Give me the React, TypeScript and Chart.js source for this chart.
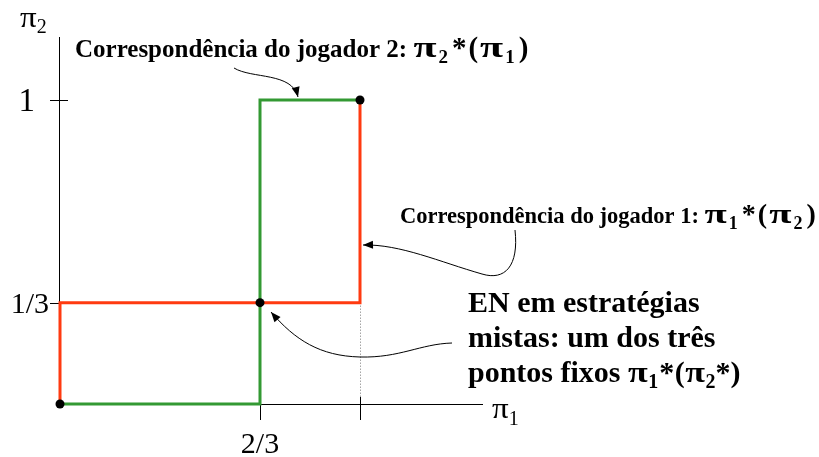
import React, { useEffect, useRef } from "react";
import { Chart, registerables } from "chart.js";

Chart.register(...registerables);

// Best-response correspondences of a 2x2 game in mixed strategies
const player1X = [0, 0, 1, 1];
const player1Y = [0, 1 / 3, 1 / 3, 1];
const player2X = [0, 2 / 3, 2 / 3, 1];
const player2Y = [0, 0, 1, 1];
const equilibriaX = [0, 2 / 3, 1];
const equilibriaY = [0, 1 / 3, 1];

const xTickValues = [2 / 3, 1];
const xTickLabels = ["2/3", ""];
const yTickValues = [1 / 3, 1];
const yTickLabels = ["1/3", "1"];

const RED = "#ff3a10";
const GREEN = "#339933";
const SERIF = '"Liberation Serif", "Times New Roman", serif';

type Run = { t: string; size: number; dy?: number; sx?: number; pad?: number };

function drawRuns(ctx: CanvasRenderingContext2D, x: number, y: number, runs: Run[], bold: boolean) {
  let cx = x;
  ctx.textBaseline = "alphabetic";
  ctx.textAlign = "left";
  for (const r of runs) {
    ctx.font = `${bold ? "bold " : ""}${r.size}px ${SERIF}`;
    const sx = r.sx || 1;
    ctx.save();
    ctx.translate(cx, y + (r.dy || 0));
    ctx.scale(sx, 1);
    ctx.fillText(r.t, 0, 0);
    ctx.restore();
    cx += ctx.measureText(r.t).width * sx + (r.pad || 0);
  }
}

// formula "πa*(πb)" with a wide, symbol-style pi
function formula(size: number, a: string, b: string, sx: number, gap: number, starInside: boolean): Run[] {
  const sub = Math.round(size * 0.65);
  const dy = Math.round(size * 0.2);
  const runs: Run[] = [
    { t: "π", size, sx, pad: gap },
    { t: a, size: sub, dy, pad: gap * 2 },
    { t: "*", size, pad: gap },
    { t: "(", size, pad: gap },
    { t: "π", size, sx, pad: gap },
    { t: b, size: sub, dy, pad: starInside ? 0 : gap * 2 },
  ];
  if (starInside) runs.push({ t: "*", size }, { t: ")", size });
  else runs.push({ t: ")", size });
  return runs;
}

function arrow(ctx: CanvasRenderingContext2D, pts: number[][]) {
  // pts: start, then triples of (cp1, cp2, end)
  ctx.beginPath();
  ctx.moveTo(pts[0][0], pts[0][1]);
  for (let i = 1; i + 2 < pts.length; i += 3) {
    ctx.bezierCurveTo(pts[i][0], pts[i][1], pts[i + 1][0], pts[i + 1][1], pts[i + 2][0], pts[i + 2][1]);
  }
  ctx.strokeStyle = "#000";
  ctx.lineWidth = 1;
  ctx.stroke();
  const end = pts[pts.length - 1];
  const cp = pts[pts.length - 2];
  const ang = Math.atan2(end[1] - cp[1], end[0] - cp[0]);
  const len = 10;
  const hw = 4;
  ctx.beginPath();
  ctx.moveTo(end[0], end[1]);
  ctx.lineTo(end[0] - len * Math.cos(ang) + hw * Math.sin(ang), end[1] - len * Math.sin(ang) - hw * Math.cos(ang));
  ctx.lineTo(end[0] - len * Math.cos(ang) - hw * Math.sin(ang), end[1] - len * Math.sin(ang) + hw * Math.cos(ang));
  ctx.closePath();
  ctx.fillStyle = "#000";
  ctx.fill();
}

const axesPlugin = {
  id: "gameAxes",
  beforeDatasetsDraw(chart: any) {
    const ctx: CanvasRenderingContext2D = chart.ctx;
    const xs = chart.scales.x;
    const ys = chart.scales.y;
    const area = chart.chartArea;
    const x0 = xs.getPixelForValue(0);
    const y0 = ys.getPixelForValue(0);
    ctx.save();
    ctx.strokeStyle = "#000";
    ctx.lineWidth = 1;
    ctx.beginPath();
    ctx.moveTo(x0 - 0.5, y0);
    ctx.lineTo(x0 - 0.5, area.top);
    ctx.moveTo(x0, y0 + 0.5);
    ctx.lineTo(area.right, y0 + 0.5);
    for (const v of yTickValues) {
      const py = Math.round(ys.getPixelForValue(v)) + 0.5;
      ctx.moveTo(x0 - 10, py);
      ctx.lineTo(x0 + 8, py);
    }
    for (const v of xTickValues) {
      const px = Math.round(xs.getPixelForValue(v)) + 0.5;
      ctx.moveTo(px, y0 - 7);
      ctx.lineTo(px, y0 + 16);
    }
    ctx.stroke();

    // dotted guide under the corner at π1 = 1
    const gx = Math.round(xs.getPixelForValue(1)) + 0.5;
    ctx.strokeStyle = "#777";
    ctx.setLineDash([1, 2]);
    ctx.beginPath();
    ctx.moveTo(gx, ys.getPixelForValue(1 / 3));
    ctx.lineTo(gx, y0 - 7);
    ctx.stroke();
    ctx.setLineDash([]);

    // tick labels
    ctx.fillStyle = "#000";
    ctx.textBaseline = "alphabetic";
    xTickValues.forEach((v, i) => {
      if (!xTickLabels[i]) return;
      ctx.font = `30px ${SERIF}`;
      ctx.textAlign = "center";
      ctx.fillText(xTickLabels[i], xs.getPixelForValue(v), y0 + 49);
    });
    yTickValues.forEach((v, i) => {
      ctx.textAlign = "right";
      const py = ys.getPixelForValue(v);
      ctx.font = `${i === 0 ? 30 : 33}px ${SERIF}`;
      ctx.fillText(yTickLabels[i], i === 0 ? x0 - 11 : x0 - 25, py + (i === 0 ? 10 : 11));
    });

    // axis titles
    drawRuns(ctx, 20, 27, [{ t: "π", size: 30, sx: 1.1 }, { t: "2", size: 20, dy: 6 }], false);
    drawRuns(ctx, area.right + 9, y0 + 14, [{ t: "π", size: 30, sx: 1.1 }, { t: "1", size: 20, dy: 7 }], false);
    ctx.restore();
  },
  afterDraw(chart: any) {
    const ctx: CanvasRenderingContext2D = chart.ctx;
    ctx.save();
    ctx.fillStyle = "#000";
    drawRuns(
      ctx,
      75,
      57,
      [{ t: "Correspondência do jogador 2: ", size: 25 }, ...formula(29, "2", "1", 1.45, 2, false)],
      true,
    );
    drawRuns(
      ctx,
      400,
      223,
      [{ t: "Correspondência do jogador 1: ", size: 22.5 }, ...formula(28, "1", "2", 1.45, 2, false)],
      true,
    );
    drawRuns(ctx, 468, 312, [{ t: "EN em estratégias", size: 30 }], true);
    drawRuns(ctx, 468, 347, [{ t: "mistas: um dos três", size: 30 }], true);
    drawRuns(ctx, 468, 382, [{ t: "pontos fixos ", size: 30 }, ...formula(30, "1", "2", 1.2, 0.5, true)], true);

    arrow(ctx, [[234, 68], [252, 79], [292, 72], [298, 97]]);
    arrow(ctx, [[515, 230], [519, 266], [505, 281], [482, 274], [440, 262], [400, 244], [363, 245]]);
    arrow(ctx, [[452, 343], [420, 344], [400, 358], [360, 357], [320, 356], [295, 340], [271, 312]]);
    ctx.restore();
  },
};

export default function App() {
  const ref = useRef<HTMLCanvasElement>(null);

  useEffect(() => {
    if (!ref.current) return;
    const toPts = (xs: number[], ys: number[]) => xs.map((x, i) => ({ x, y: ys[i] }));
    const chart = new Chart(ref.current, {
      type: "line",
      data: {
        datasets: [
          {
            label: "Equilíbrios",
            data: toPts(equilibriaX, equilibriaY),
            showLine: false,
            pointRadius: 4.5,
            pointBackgroundColor: "#000",
            pointBorderWidth: 0,
            clip: false,
            order: 0,
          },
          {
            label: "Correspondência do jogador 2",
            data: toPts(player2X, player2Y),
            borderColor: GREEN,
            borderWidth: 3,
            pointRadius: 0,
            fill: false,
            tension: 0,
            clip: false,
            order: 1,
          },
          {
            label: "Correspondência do jogador 1",
            data: toPts(player1X, player1Y),
            borderColor: RED,
            borderWidth: 3,
            pointRadius: 0,
            fill: false,
            tension: 0,
            clip: false,
            order: 2,
          },
        ],
      },
      options: {
        animation: false,
        responsive: false,
        devicePixelRatio: 1,
        events: [],
        layout: { padding: { left: 60, right: 336, top: 37, bottom: 53 } },
        plugins: { legend: { display: false }, tooltip: { enabled: false } },
        scales: {
          x: { type: "linear", min: 0, max: 423 / 300, display: false },
          y: { type: "linear", min: 0, max: 367 / 304, display: false },
        },
      },
      plugins: [axesPlugin],
    });
    return () => chart.destroy();
  }, []);

  return (
    <div style={{ position: "fixed", left: 0, top: 0, width: 819, height: 457, background: "#fff" }}>
      <canvas ref={ref} width={819} height={457} />
    </div>
  );
}
